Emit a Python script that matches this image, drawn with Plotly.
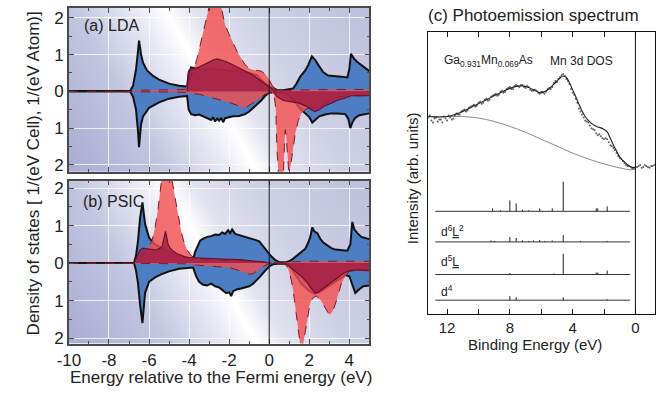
import base64
import plotly.graph_objects as go

# ---------------- Panel (a) LDA ----------------
a_E_tot_up = [-10, -6.95, -6.8, -6.65, -6.55, -6.5, -6.45, -6.4, -6.3, -6.1, -5.8, -5.5, -5.0, -4.5, -4.1, -4.02, -3.9,
              -3.7, -3.5, -3.3, -3.0, -2.7, -2.5, -2.2, -2.0, -1.7, -1.5, -1.2, -1.0, -0.8, -0.6, -0.4, -0.2, 0.0, 0.2,
              0.4, 0.7, 1.0, 1.2, 1.35, 1.55, 1.8, 1.95, 2.13, 2.3, 2.45, 2.7, 2.95, 3.3, 3.6, 3.9, 4.0, 4.08, 4.25,
              4.4, 4.65, 4.9, 5.0]
a_tot_up = [0, 0, 0.15, 0.6, 1.1, 1.38, 1.2, 1.0, 0.78, 0.57, 0.42, 0.32, 0.21, 0.15, 0.13, 0.5, 0.65, 0.62, 0.6, 0.58,
            0.62, 0.6, 0.6, 0.58, 0.57, 0.56, 0.55, 0.52, 0.5, 0.47, 0.44, 0.32, 0.22, 0.15, 0.08, 0.03, 0.03, 0.06,
            0.08, 0.2, 0.4, 0.57, 0.72, 0.95, 0.85, 0.72, 0.52, 0.43, 0.42, 0.4, 0.38, 0.6, 1.02, 0.88, 0.8, 0.7, 0.58,
            0.55]
a_E_tot_dn = [-10, -6.95, -6.8, -6.65, -6.55, -6.5, -6.45, -6.4, -6.3, -6.0, -5.5, -5.0, -4.5, -4.1, -4.02, -3.9, -3.7,
              -3.5, -3.3, -3.1, -2.9, -2.8, -2.7, -2.6, -2.5, -2.4, -2.3, -2.2, -2.0, -1.8, -1.5, -1.2, -1.0, -0.8, -0.6,
              -0.4, -0.2, 0.0, 0.3, 0.7, 1.0, 1.3, 1.6, 1.8, 2.0, 2.15, 2.3, 2.5, 2.8, 3.1, 3.4, 3.8, 3.95, 4.05, 4.15,
              4.3, 4.5, 4.8, 5.0]
a_tot_dn = [0, 0, 0.15, 0.5, 1.1, 1.52, 1.2, 0.9, 0.68, 0.45, 0.3, 0.2, 0.15, 0.13, 0.5, 0.62, 0.65, 0.63, 0.68, 0.72,
            0.78, 0.7, 0.82, 0.74, 0.8, 0.72, 0.84, 0.73, 0.7, 0.68, 0.67, 0.62, 0.55, 0.45, 0.35, 0.25, 0.12, 0.04,
            0.02, 0.03, 0.1, 0.3, 0.5, 0.6, 0.7, 0.85, 0.78, 0.68, 0.63, 0.6, 0.6, 0.62, 0.75, 1.0, 0.85, 0.72, 0.65,
            0.62, 0.6]
a_E_mn_up = [-10, -6.9, -6.5, -5.0, -4.2, -4.0, -3.8, -3.6, -3.4, -3.2, -3.0, -2.8, -2.6, -2.4, -2.2, -2.0, -1.8, -1.6,
             -1.4, -1.2, -1.0, -0.8, -0.6, -0.4, -0.2, 0.0, 0.15, 0.3, 0.45, 1.0, 2.0, 3.0, 4.0, 4.5, 5.0]
a_mn_up = [0, 0, 0.03, 0.03, 0.05, 0.3, 0.55, 0.9, 1.35, 1.85, 2.3, 2.6, 2.6, 2.3, 1.8, 1.55, 1.3, 1.08, 0.9, 0.72,
           0.62, 0.58, 0.57, 0.55, 0.47, 0.32, 0.16, 0.06, 0.02, 0.02, 0.04, 0.05, 0.04, 0.05, 0.05]
a_E_mn_dn = [-10, -6.9, -6.5, -5.0, -4.1, -4.0, -3.5, -3.0, -2.5, -2.0, -1.6, -1.3, -1.1, -0.8, -0.5, -0.2, 0.1, 0.25,
             0.33, 0.38, 0.42, 0.5, 0.6, 0.7, 0.76, 0.8, 0.84, 0.9, 0.97, 1.05, 1.15, 1.3, 1.45, 1.6, 1.8, 2.0, 2.3, 2.6,
             3.0, 3.5, 4.0, 4.5, 5.0]
a_mn_dn = [0, 0, 0.02, 0.02, 0.03, 0.05, 0.08, 0.15, 0.22, 0.3, 0.38, 0.45, 0.42, 0.32, 0.2, 0.08, 0.02, 0.1, 0.5, 1.5,
           2.3, 2.6, 2.6, 2.4, 1.5, 1.05, 1.2, 1.8, 2.15, 2.1, 1.7, 1.15, 0.8, 0.6, 0.5, 0.45, 0.45, 0.4, 0.25, 0.15,
           0.12, 0.12, 0.12]
a_E_cr_up = [-4.1, -4.03, -3.9, -3.7, -3.5, -3.3, -3.0, -2.8, -2.6, -2.4, -2.2, -2.0, -1.8, -1.6, -1.4, -1.2, -1.0,
             -0.8, -0.6, -0.4, -0.2, 0.0, 0.2, 0.4]
a_cr_up = [0, 0.55, 0.62, 0.62, 0.66, 0.72, 0.8, 0.85, 0.88, 0.86, 0.82, 0.77, 0.72, 0.66, 0.6, 0.55, 0.5, 0.43, 0.36,
           0.28, 0.2, 0.12, 0.05, 0.0]
a_E_cr_dn = [0.2, 0.4, 0.7, 1.0, 1.5, 1.9, 2.1, 2.3, 2.5, 2.7, 3.0, 3.4, 3.8, 4.1, 4.5, 5.0]
a_cr_dn = [0, 0.15, 0.25, 0.27, 0.32, 0.42, 0.5, 0.55, 0.5, 0.42, 0.35, 0.25, 0.18, 0.12, 0.12, 0.12]

# ---------------- Panel (b) PSIC ----------------
b_E_tot_up = [-10, -6.75, -6.65, -6.55, -6.45, -6.38, -6.33, -6.28, -6.2, -6.0, -5.7, -5.4, -5.0, -4.5, -4.0, -3.8,
              -3.7, -3.6, -3.45, -3.3, -3.1, -2.9, -2.7, -2.5, -2.35, -2.2, -2.05, -1.95, -1.85, -1.7, -1.5, -1.3, -1.1,
              -0.9, -0.7, -0.5, -0.3, -0.1, 0.1, 0.3, 0.5, 0.8, 1.0, 1.2, 1.4, 1.6, 1.8, 1.95, 2.05, 2.15, 2.25, 2.4,
              2.55, 2.7, 2.9, 3.1, 3.3, 3.6, 3.9, 4.05, 4.15, 4.25, 4.4, 4.6, 4.8, 5.0]
b_tot_up = [0, 0, 0.2, 0.6, 1.2, 1.55, 1.62, 1.4, 1.05, 0.68, 0.5, 0.4, 0.3, 0.2, 0.12, 0.1, 0.3, 0.42, 0.6, 0.65, 0.7,
            0.72, 0.76, 0.75, 0.82, 0.78, 0.88, 0.8, 0.9, 0.78, 0.75, 0.72, 0.7, 0.66, 0.62, 0.58, 0.45, 0.3, 0.18,
            0.08, 0.03, 0.02, 0.05, 0.12, 0.2, 0.3, 0.38, 0.55, 0.7, 0.95, 0.85, 0.8, 0.65, 0.55, 0.48, 0.4, 0.36,
            0.35, 0.33, 0.5, 1.1, 0.9, 0.8, 0.7, 0.66, 0.64]
b_E_tot_dn = [-10, -6.75, -6.65, -6.55, -6.45, -6.38, -6.33, -6.28, -6.2, -6.0, -5.7, -5.4, -5.0, -4.5, -4.0, -3.8,
              -3.65, -3.5, -3.3, -3.1, -2.9, -2.7, -2.5, -2.3, -2.15, -2.0, -1.9, -1.8, -1.6, -1.4, -1.2, -1.0, -0.8,
              -0.6, -0.4, -0.2, 0.0, 0.2, 0.5, 0.8, 1.0, 1.3, 1.6, 2.0, 2.3, 2.6, 3.0, 3.4, 3.8, 4.0, 4.15, 4.3, 4.5,
              4.7, 5.0]
b_tot_dn = [0, 0, 0.2, 0.55, 1.1, 1.5, 1.6, 1.3, 0.8, 0.5, 0.38, 0.3, 0.22, 0.15, 0.12, 0.12, 0.35, 0.5, 0.58, 0.6,
            0.55, 0.62, 0.65, 0.75, 0.8, 0.78, 0.88, 0.75, 0.7, 0.68, 0.65, 0.62, 0.55, 0.45, 0.33, 0.2, 0.09, 0.03,
            0.01, 0.02, 0.05, 0.3, 0.55, 0.75, 0.82, 0.75, 0.6, 0.45, 0.32, 0.35, 0.55, 0.8, 0.7, 0.62, 0.6]
b_E_mn_up = [-10, -6.7, -6.4, -6.2, -6.0, -5.85, -5.7, -5.55, -5.45, -5.35, -5.2, -5.05, -4.95, -4.8, -4.65, -4.55,
             -4.4, -4.25, -4.1, -3.9, -3.7, -3.5, -3.0, -2.0, -1.0, 0.0, 0.4, 1.0, 2.0, 3.0, 4.0, 5.0]
b_mn_up = [0, 0, 0.15, 0.3, 0.45, 0.6, 0.95, 1.45, 2.0, 2.6, 3.0, 2.8, 2.5, 2.0, 1.6, 1.3, 0.85, 0.55, 0.35, 0.2, 0.13,
           0.1, 0.08, 0.07, 0.06, 0.03, 0.0, 0.03, 0.05, 0.05, 0.05, 0.05]
b_E_mn_dn = [-10, -6.7, -6.0, -4.0, -3.7, -3.0, -2.0, -1.5, -1.2, -1.0, -0.8, -0.5, -0.2, 0.1, 0.5, 0.8, 0.95, 1.1, 1.2,
             1.3, 1.4, 1.5, 1.58, 1.65, 1.75, 1.85, 1.95, 2.05, 2.2, 2.35, 2.5, 2.65, 2.8, 2.95, 3.05, 3.15, 3.3, 3.45,
             3.6, 3.8, 4.0, 4.3, 4.6, 5.0]
b_mn_dn = [0, 0, 0.02, 0.02, 0.05, 0.08, 0.12, 0.2, 0.27, 0.3, 0.28, 0.18, 0.06, 0.0, 0.0, 0.02, 0.15, 0.45, 0.75, 1.2,
           1.65, 2.05, 2.3, 2.3, 2.0, 1.6, 1.3, 1.05, 0.92, 0.88, 0.95, 1.05, 1.2, 1.33, 1.37, 1.3, 1.1, 0.8, 0.55,
           0.35, 0.22, 0.2, 0.2, 0.2]
b_E_cr_up = [-6.75, -6.6, -6.45, -6.3, -6.1, -5.9, -5.7, -5.5, -5.35, -5.28, -5.22, -5.18, -5.12, -5.05, -4.95, -4.8,
             -4.6, -4.4, -4.2, -4.0, -3.7, -3.4, -3.0, -2.5, -2.0, -1.5, -1.0, -0.5, -0.2, 0.1]
b_cr_up = [0, 0.2, 0.35, 0.4, 0.38, 0.35, 0.35, 0.38, 0.45, 0.6, 0.82, 0.85, 0.7, 0.5, 0.4, 0.32, 0.25, 0.2, 0.17, 0.15,
           0.14, 0.13, 0.12, 0.11, 0.1, 0.09, 0.07, 0.04, 0.02, 0]
b_E_cr_dn = [0.8, 1.0, 1.3, 1.6, 1.9, 2.1, 2.3, 2.45, 2.6, 2.8, 3.1, 3.4, 3.7, 4.0, 4.5, 5.0]
b_cr_dn = [0, 0.08, 0.22, 0.35, 0.52, 0.68, 0.8, 0.78, 0.72, 0.62, 0.5, 0.38, 0.28, 0.2, 0.18, 0.2]

dos_xticks = [-10, -8, -6, -4, -2, 0, 2, 4]
dos_xticktext = ["-10", "-8", "-6", "-4", "-2", "0", "2", "4"]
dos_yticks = [-2, -1, 0, 1, 2]
dos_yticktext = ["2", "1", "0", "1", "2"]

# ---------------- Panel (c) photoemission ----------------
pe_E1 = [13.2, 13.0, 12.8, 12.6, 12.4, 12.2, 12.0, 11.8, 11.6, 11.4, 11.2, 11.0, 10.8, 10.6, 10.4, 10.2, 10.0, 9.8,
         9.6, 9.4, 9.2, 9.0, 8.8, 8.6, 8.4, 8.2, 8.0, 7.8, 7.6, 7.4, 7.2, 7.0, 6.8, 6.6, 6.4, 6.2, 6.0, 5.8, 5.6, 5.4,
         5.2, 5.0, 4.8, 4.6, 4.4, 4.2, 4.0, 3.8, 3.6, 3.4, 3.2, 3.0, 2.8, 2.6, 2.4, 2.2, 2.0, 1.8, 1.6, 1.4, 1.2, 1.0,
         0.8, 0.6, 0.4, 0.2, 0.0, -0.2, -0.4, -0.6, -0.8, -1.0, -1.2]
pe_I1 = [199, 196, 198, 195, 197, 200, 196, 199, 198, 203, 202, 206, 205, 209, 211, 210, 214, 213, 217, 216, 220, 222,
         221, 225, 224, 228, 230, 228, 232, 230, 232, 229, 230, 226, 227, 224, 225, 223, 228, 228, 234, 235, 240, 243,
         238, 233, 224, 218, 208, 202, 196, 194, 188, 186, 181, 180, 177, 177, 171, 168, 163, 158, 155, 151, 150, 147,
         149, 150, 148, 151, 149, 150, 151]
pe_E2 = [13.1, 12.9, 12.7, 12.5, 12.3, 12.1, 11.9, 11.7, 11.5, 11.3, 11.1, 10.9, 10.7, 10.5, 10.3, 10.1, 9.9, 9.7, 9.5,
         9.3, 9.1, 8.9, 8.7, 8.5, 8.3, 8.1, 7.9, 7.7, 7.5, 7.3, 7.1, 6.9, 6.7, 6.5, 6.3, 6.1, 5.9, 5.7, 5.5, 5.3, 5.1,
         4.9, 4.7, 4.5, 4.3, 4.1, 3.9, 3.7, 3.5, 3.3, 3.1, 2.9, 2.7, 2.5, 2.3, 2.1, 1.9, 1.7, 1.5, 1.3, 1.1, 0.9, 0.7,
         0.5, 0.3, 0.1, -0.1, -0.3, -0.5, -0.7, -0.9, -1.1]
pe_I2 = [201, 194, 199, 197, 194, 198, 201, 197, 201, 202, 205, 207, 206, 210, 212, 211, 215, 214, 218, 217, 221, 223,
         222, 226, 225, 229, 228, 231, 231, 232, 230, 231, 227, 226, 226, 223, 225, 225, 229, 230, 236, 238, 242, 241,
         236, 228, 222, 214, 205, 199, 195, 191, 187, 183, 182, 178, 178, 174, 170, 166, 160, 157, 153, 150, 149, 148,
         149, 151, 149, 150, 148, 150]
fit_E = [13.2, 12.8, 12.4, 12.0, 11.6, 11.2, 10.8, 10.4, 10.0, 9.6, 9.2, 8.8, 8.4, 8.0, 7.6, 7.2, 6.8, 6.4, 6.0, 5.6,
         5.2, 4.8, 4.6, 4.4, 4.2, 4.0, 3.8, 3.6, 3.4, 3.2, 3.0, 2.8, 2.6, 2.4, 2.2, 2.0, 1.8, 1.6, 1.4, 1.2, 1.0, 0.8,
         0.6, 0.4, 0.2, 0.0]
fit_I = [200, 199.6, 199.5, 200, 201.5, 203.8, 206.5, 210, 213, 216.2, 219.4, 222.6, 225.7, 228.5, 230.5, 231, 229.3,
         226.3, 224, 226.8, 232.8, 239, 241, 239.5, 234, 227, 220, 212.5, 205.5, 200, 196, 193, 191, 189.5, 188.5, 187,
         184.5, 178, 171, 165, 159, 155.5, 152.5, 150, 148.5, 148]
bg_E = [13.2, 12.0, 11.0, 10.0, 9.0, 8.0, 7.0, 6.0, 5.0, 4.0, 3.0, 2.0, 1.0, 0.3, 0.0]
bg_I = [200, 200, 200, 198.5, 195, 190, 184, 177, 170, 163, 157, 152, 148, 146, 147]

stick_rows = ["total", "d6L2", "d5L", "d4"]
stick_base = [104, 73, 40, 14]
stick_E = [
    [9.1, 8.6, 8.0, 7.6, 7.2, 6.8, 6.1, 5.3, 4.6, 2.5, 2.4, 1.8],
    [9.2, 9.0, 8.0, 7.6, 7.2, 6.8, 6.5, 6.1, 5.8, 5.3, 4.6, 3.5, 1.8],
    [8.0, 5.2, 4.6, 2.5, 2.4, 1.8],
    [8.0, 7.6, 4.6, 1.8],
]
stick_h = [
    [3, 1, 11, 8, 1.5, 1, 3, 3, 30, 3, 3, 5],
    [1.5, 1, 5, 4, 1.5, 1, 1.5, 2, 1, 1.5, 7, 1, 1],
    [1.5, 1, 21, 2, 2, 4],
    [4, 3, 3, 0.8],
]
stick_span = [12.75, 0.35]
stick_labels = ["d<sup>6</sup><u>L</u><sup>2</sup>", "d<sup>5</sup><u>L</u>", "d<sup>4</sup>"]
stick_label_y = [84, 54, 23]

# ---------------- figure ----------------
W, H = 657, 396
FONT = "Liberation Sans, Arial, Helvetica, sans-serif"
BLUE = "#4d7ec4"
SALMON = "rgba(242,78,78,0.8)"
CRIMSON = "rgba(160,28,68,0.8)"

fig = go.Figure()


def add_fill(x, y, sign, xa, ya, fillcolor, color, width, dash="solid"):
    fig.add_trace(go.Scatter(x=x, y=[sign * v for v in y], mode="lines", fill="tozeroy",
                             fillcolor=fillcolor, line=dict(color=color, width=width, dash=dash),
                             xaxis=xa, yaxis=ya, showlegend=False, hoverinfo="skip"))


panels = [
    ("x", "y", a_E_tot_up, a_tot_up, a_E_tot_dn, a_tot_dn, a_E_mn_up, a_mn_up, a_E_mn_dn, a_mn_dn,
     a_E_cr_up, a_cr_up, a_E_cr_dn, a_cr_dn),
    ("x2", "y2", b_E_tot_up, b_tot_up, b_E_tot_dn, b_tot_dn, b_E_mn_up, b_mn_up, b_E_mn_dn, b_mn_dn,
     b_E_cr_up, b_cr_up, b_E_cr_dn, b_cr_dn),
]
for (xa, ya, etu, tu, etd, td, emu, mu, emd, md, ecu, cu, ecd, cd) in panels:
    add_fill(etu, tu, 1, xa, ya, BLUE, "#111111", 2)
    add_fill(etd, td, -1, xa, ya, BLUE, "#111111", 2)
    add_fill(emu, mu, 1, xa, ya, SALMON, "#7a1a28", 1, "dash")
    add_fill(emd, md, -1, xa, ya, SALMON, "#7a1a28", 1, "dash")
    add_fill(ecu, cu, 1, xa, ya, CRIMSON, "#6e0f28", 1.2)
    add_fill(ecd, cd, -1, xa, ya, CRIMSON, "#6e0f28", 1.2)

# panel (c)
fig.add_trace(go.Scatter(x=bg_E, y=bg_I, mode="lines", line=dict(color="#8a8a8a", width=1, shape="spline"),
                         xaxis="x3", yaxis="y3", showlegend=False, hoverinfo="skip"))
fig.add_trace(go.Scatter(x=pe_E1 + pe_E2, y=pe_I1 + pe_I2, mode="markers",
                         marker=dict(color="#444444", size=2, opacity=0.85), xaxis="x3", yaxis="y3",
                         showlegend=False, hoverinfo="skip"))
fig.add_trace(go.Scatter(x=fit_E, y=fit_I, mode="lines", line=dict(color="#222222", width=1.1, shape="spline"),
                         xaxis="x3", yaxis="y3", showlegend=False, hoverinfo="skip"))
for base, es, hs in zip(stick_base, stick_E, stick_h):
    fig.add_trace(go.Scatter(x=stick_span, y=[base, base], mode="lines", line=dict(color="#333333", width=1),
                             xaxis="x3", yaxis="y3", showlegend=False, hoverinfo="skip"))
    sx, sy = [], []
    for e, h in zip(es, hs):
        sx += [e, e, None]
        sy += [base, base + h, None]
    fig.add_trace(go.Scatter(x=sx, y=sy, mode="lines", line=dict(color="#222222", width=1),
                             xaxis="x3", yaxis="y3", showlegend=False, hoverinfo="skip"))

# background gradient for DOS panels
svg = ('<svg xmlns="http://www.w3.org/2000/svg" width="306" height="166" viewBox="0 0 306 166" '
       'preserveAspectRatio="none"><defs><linearGradient id="g" gradientUnits="userSpaceOnUse" '
       'x1="-2" y1="164" x2="301" y2="-9">'
       '<stop offset="0" stop-color="#a7acd2"/>'
       '<stop offset="0.25" stop-color="#c3c6e1"/>'
       '<stop offset="0.43" stop-color="#f0f0f8"/>'
       '<stop offset="0.48" stop-color="#ffffff"/>'
       '<stop offset="0.55" stop-color="#e2e3ef"/>'
       '<stop offset="0.7" stop-color="#cfd1e5"/>'
       '<stop offset="1" stop-color="#bcc0db"/>'
       '</linearGradient></defs><rect width="306" height="166" fill="url(#g)"/></svg>')
src = "data:image/svg+xml;base64," + base64.b64encode(svg.encode()).decode()
images = []
for xr, yr in [("x domain", "y domain"), ("x2 domain", "y2 domain")]:
    images.append(dict(source=src, xref=xr, yref=yr, x=0, y=1, sizex=1, sizey=1, xanchor="left",
                       yanchor="top", sizing="stretch", layer="below"))


def px(v):
    return v / W


def py(v):
    return 1 - v / H


dos_x_common = dict(range=[-10, 5], showline=True, linecolor="#4a4a4a", linewidth=1.5, mirror="allticks",
                    ticks="inside", ticklen=5, tickcolor="#4a4a4a", tickvals=dos_xticks, ticktext=dos_xticktext,
                    showgrid=True, gridcolor="rgba(255,255,255,0.75)", gridwidth=1, zeroline=False,
                    minor=dict(dtick=1, tick0=0, ticks="inside", ticklen=3, tickcolor="#4a4a4a", showgrid=False),
                    tickfont=dict(size=17, color="#222", family=FONT))
dos_y_common = dict(showline=True, linecolor="#4a4a4a", linewidth=1.5, mirror="allticks", ticks="inside",
                    ticklen=5, tickcolor="#4a4a4a", tickvals=dos_yticks, ticktext=dos_yticktext,
                    showgrid=True, gridcolor="rgba(255,255,255,0.75)", gridwidth=1,
                    zeroline=True, zerolinecolor="#111111", zerolinewidth=2,
                    minor=dict(dtick=0.5, tick0=0, ticks="inside", ticklen=3, tickcolor="#4a4a4a", showgrid=False),
                    tickfont=dict(size=17, color="#222", family=FONT))

fig.update_layout(
    width=W, height=H, margin=dict(l=0, r=0, t=0, b=0), autosize=False,
    paper_bgcolor="white", plot_bgcolor="white",
    font=dict(family=FONT, color="#222"),
    xaxis=dict(domain=[px(58), px(364)], anchor="y", showticklabels=False, **dos_x_common),
    yaxis=dict(domain=[py(173), py(7)], anchor="x", range=[-2.19, 2.27], **dos_y_common),
    xaxis2=dict(domain=[px(58), px(364)], anchor="y2", showticklabels=True, **dos_x_common),
    yaxis2=dict(domain=[py(347), py(182)], anchor="x2", range=[-2.15, 2.2], **dos_y_common),
    xaxis3=dict(domain=[px(424), px(655)], anchor="y3", range=[13.2, -1.25], showline=True, linecolor="#111",
                linewidth=1, mirror="allticks", ticks="inside", ticklen=5, tickcolor="#111",
                tickvals=[0, 4, 8, 12], showgrid=False, zeroline=False,
                minor=dict(dtick=2, tick0=0, ticks="inside", ticklen=5, tickcolor="#111", showgrid=False),
                tickfont=dict(size=15, color="#222", family=FONT)),
    yaxis3=dict(domain=[py(317), py(31)], anchor="x3", range=[0, 286], showline=True, linecolor="#111",
                linewidth=1, mirror=True, ticks="", showticklabels=False, showgrid=False, zeroline=False),
    images=images,
    shapes=[
        dict(type="line", xref="x", yref="y domain", x0=0, x1=0, y0=0, y1=1, line=dict(color="#111", width=1)),
        dict(type="line", xref="x2", yref="y2 domain", x0=0, x1=0, y0=0, y1=1, line=dict(color="#111", width=1)),
        dict(type="line", xref="x3", yref="y3 domain", x0=0, x1=0, y0=0, y1=1, line=dict(color="#111", width=1)),
    ],
)

ann = [
    dict(text="(a) LDA", x=px(71), y=py(25), xanchor="left", font=dict(size=16)),
    dict(text="(b) PSIC", x=px(70), y=py(203), xanchor="left", font=dict(size=16)),
    dict(text="Density of states [ 1/(eV Cell), 1/(eV Atom)]", x=px(22), y=py(175), textangle=-90,
         font=dict(size=17)),
    dict(text="Energy relative to the Fermi energy (eV)", x=px(213), y=py(381), font=dict(size=17)),
    dict(text="(c) Photoemission spectrum", x=px(531), y=py(15), font=dict(size=17)),
    dict(text="Binding Energy (eV)", x=px(533), y=py(348), font=dict(size=15)),
    dict(text="Intensity (arb. units)", x=px(408), y=py(180), textangle=-90, font=dict(size=15)),
    dict(text="Ga<sub>0.931</sub>Mn<sub>0.069</sub>As", x=px(485), y=py(61), font=dict(size=12)),
    dict(text="Mn 3d DOS", x=px(580), y=py(61), font=dict(size=12)),
]
for lab, ly in zip(stick_labels, stick_label_y):
    ann.append(dict(text=lab, x=12.5, y=ly, xref="x3", yref="y3", xanchor="left", font=dict(size=12)))
for a in ann:
    a.setdefault("xref", "paper")
    a.setdefault("yref", "paper")
    a.setdefault("yanchor", "middle")
    a.setdefault("xanchor", "center")
    a["showarrow"] = False
    a["font"] = dict(family=FONT, color="#222", **a["font"])
fig.update_layout(annotations=ann)

fig.write_html("out.html")
